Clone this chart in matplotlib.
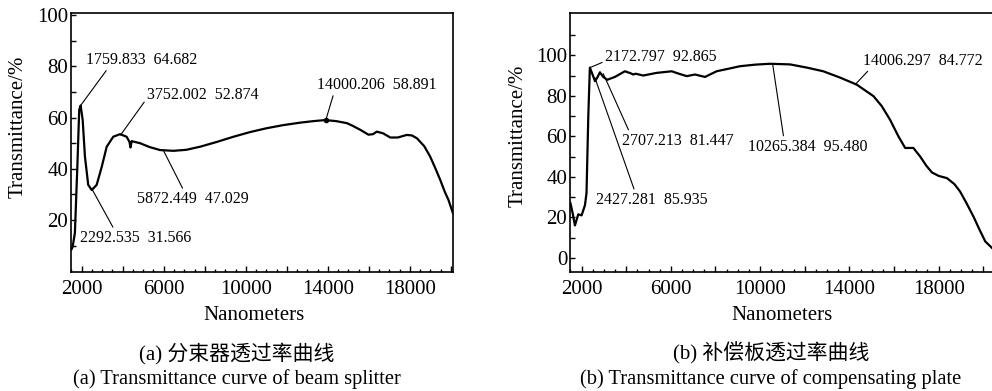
'''
Transmittance curves of beam splitter and compensating plate
'''
import matplotlib
matplotlib.use('Agg')
import matplotlib.pyplot as plt
from matplotlib.ticker import FixedLocator, MultipleLocator, FuncFormatter

plt.rcParams['font.family'] = ['Liberation Serif', 'Noto Sans CJK SC']

# ---------------------------------
# (a) beam splitter
bs_nm = [1500, 1560, 1670, 1790, 1880, 1950, 2050, 2160, 2320, 2490, 2730, 2980, 3220, 3540,
         3870, 4190, 4330, 4380, 4440, 4520, 4840, 5300, 5820, 6470, 7100, 7770, 8600, 9400,
         10200, 11000, 11800, 12650, 13300, 13870, 14400, 14930, 15200, 15580, 15980, 16200,
         16390, 16700, 17040, 17400, 17850, 18100, 18340, 18700, 18990, 19250, 19480, 19700,
         19880, 20100]
bs_tr = [8.5, 9.5, 15.0, 41.0, 63.0, 64.7, 59.0, 44.7, 33.7, 31.7, 33.7, 40.8, 48.6, 52.5,
         53.5, 52.5, 50.5, 48.3, 50.8, 50.6, 50.0, 48.5, 47.3, 47.0, 47.4, 48.6, 50.5, 52.5,
         54.3, 55.8, 57.0, 58.0, 58.6, 59.0, 58.6, 57.8, 56.8, 55.2, 53.3, 53.5,
         54.5, 53.8, 52.2, 52.2, 53.2, 53.0, 51.9, 48.8, 44.7, 40.0, 35.6, 31.0,
         27.8, 22.6]

# (b) compensating plate
cp_nm = [1500, 1600, 1700, 1850, 2000, 2150, 2220, 2300, 2370, 2490, 2600, 2700, 2820, 2970,
         3150, 3490, 3940, 4200, 4320, 4420, 4760, 5360, 6040, 6300, 6710, 7080, 7530, 8050,
         8600, 9100, 9800, 10440, 11340, 12100, 12830, 13600, 14330, 15080, 15450, 15820,
         16200, 16500, 16870, 17170, 17450, 17700, 18000, 18370, 18700, 18960, 19250, 19560,
         19850, 20090, 20400]
cp_tr = [27.0, 22.0, 16.0, 21.5, 21.0, 26.0, 32.0, 70.0, 94.0, 90.6, 87.3, 89.0, 91.7, 89.4,
         88.0, 89.4, 92.2, 91.2, 90.6, 91.0, 90.1, 91.4, 92.2, 91.2, 89.8, 90.6, 89.4, 92.2,
         93.5, 94.7, 95.5, 95.9, 95.6, 94.0, 92.2, 89.0, 85.6, 79.9, 75.0, 68.3,
         60.0, 54.3, 54.3, 50.1, 45.5, 42.2, 40.5, 39.4, 36.5, 32.8, 27.0, 20.4,
         13.5, 8.1, 4.8]

# annotations: label, curve point, text anchor, where the leader meets the text
bs_labels = ['1759.833  64.682', '3752.002  52.874', '14000.206  58.891',
             '5872.449  47.029', '2292.535  31.566']
bs_points = [(1950, 64.7), (3900, 53.2), (13900, 59.0), (5976, 47.3), (2500, 32.1)]
bs_text   = [(2210, 82.5), (5185, 68.8), (13478, 72.7), (4698, 28.2), (1917, 13.0)]
bs_rel    = [(0.2, 0.0), (0.0, 0.3), (0.14, 0.0), (0.42, 1.0), (0.31, 1.0)]
bs_dot    = [(13900, 59.0)]

cp_labels = ['2172.797  92.865', '2427.281  85.935', '2707.213  81.447',
             '10265.384  95.480', '14006.297  84.772']
cp_points = [(2372, 94.0), (2596, 89.0), (2970, 91.0), (10565, 95.5), (14256, 85.6)]
cp_text   = [(3045, 99.5), (2641, 28.7), (3807, 57.9), (9457, 55.0), (14614, 97.5)]
cp_rel    = [(0.0, 0.2), (0.35, 1.0), (0.07, 1.0), (0.3, 1.0), (0.06, 0.0)]

x_major  = list(range(2000, 20001, 2000))
x_labels = [2000, 6000, 10000, 14000, 18000]

captions_cn = ['(a) 分束器透过率曲线', '(b) 补偿板透过率曲线']
captions_en = ['(a) Transmittance curve of beam splitter',
               '(b) Transmittance curve of compensating plate']
# ------------------------------------
def _style_axis(ax, y_major, y_minor) -> None:
    ax.xaxis.set_major_locator(FixedLocator(x_major))
    ax.xaxis.set_minor_locator(MultipleLocator(500))
    ax.xaxis.set_major_formatter(FuncFormatter(lambda v, _: f'{int(v)}' if int(v) in x_labels else ''))
    ax.yaxis.set_major_locator(FixedLocator(y_major))
    ax.yaxis.set_minor_locator(FixedLocator(y_minor))

    ax.tick_params(which='both', direction='in', labelsize=15, width=1.0)
    ax.tick_params(axis='x', which='major', length=4, pad=5.5)
    ax.tick_params(axis='x', which='minor', length=2)
    ax.tick_params(axis='y', which='both', length=3.5, pad=2)
    for spine in ax.spines.values():
        spine.set_linewidth(1.2)

    ax.set_ylabel('Transmittance/%', fontsize=15)
# ------------------------------------
def _annotate(ax, labels, points, texts, rels) -> None:
    for lab, pnt, txt, rel in zip(labels, points, texts, rels):
        ax.annotate(lab, xy=pnt, xytext=txt, ha='left', va='center', fontsize=11.5,
                    arrowprops=dict(arrowstyle='-', lw=0.8, color='black',
                                    shrinkA=0, shrinkB=0, relpos=rel))
# ------------------------------------
def main():
    '''
    start here
    '''
    fig = plt.figure(figsize=(9.92, 3.91), dpi=100)

    ax1 = fig.add_axes([71 / 992, 119 / 391, 382 / 992, 259 / 391])
    ax1.plot(bs_nm, bs_tr, color='black', lw=1.6)
    ax1.plot([p[0] for p in bs_dot], [p[1] for p in bs_dot], 'o', color='black', ms=3)
    ax1.set_xlim(1480, 20100)
    ax1.set_ylim(-0.3, 100.8)
    _style_axis(ax1, [20, 40, 60, 80, 100], [10, 30, 50, 70, 90])
    ax1.yaxis.set_label_coords(-0.113, 0.56)
    _annotate(ax1, bs_labels, bs_points, bs_text, bs_rel)

    ax2 = fig.add_axes([570 / 992, 119 / 391, 430 / 992, 259 / 391])
    ax2.plot(cp_nm, cp_tr, color='black', lw=1.6)
    ax2.set_xlim(1480, 20750)
    ax2.set_ylim(-7, 121)
    _style_axis(ax2, [0, 20, 40, 60, 80, 100], [10, 30, 50, 70, 90, 110])
    ax2.yaxis.set_label_coords(-0.098, 0.525)
    _annotate(ax2, cp_labels, cp_points, cp_text, cp_rel)

    for cx_nano, cx_cap, cn, en in zip([254, 782], [237, 771], captions_cn, captions_en):
        fig.text(cx_nano / 992, 1 - 315 / 391, 'Nanometers', ha='center', va='center', fontsize=15)
        fig.text(cx_cap / 992, 1 - 353 / 391, cn, ha='center', va='center', fontsize=15)
        fig.text(cx_cap / 992, 1 - 379 / 391, en, ha='center', va='center', fontsize=14.8)

    fig.savefig('out.png', dpi=100)
# ------------------------------------
if __name__ == '__main__':
    main()
